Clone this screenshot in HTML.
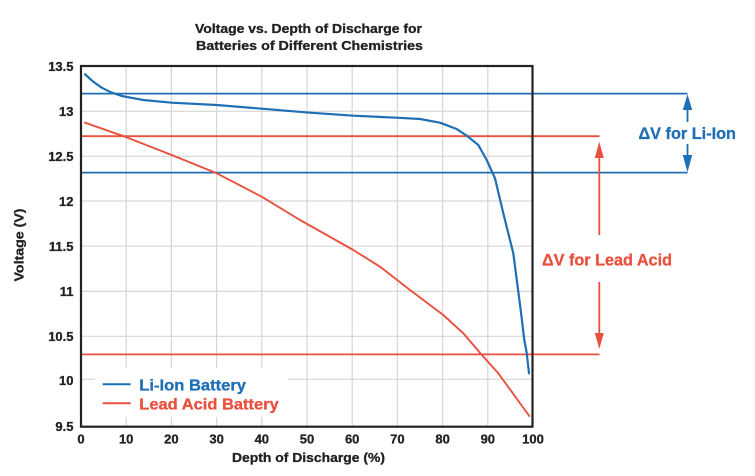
<!DOCTYPE html>
<html>
<head>
<meta charset="utf-8">
<style>
  html, body { margin: 0; padding: 0; background: #ffffff; }
  body { width: 755px; height: 476px; overflow: hidden; }
  svg { display: block; }
  text { font-family: "Liberation Sans", "DejaVu Sans", sans-serif; font-weight: bold; }
</style>
</head>
<body>
<svg width="755" height="476" viewBox="0 0 755 476" xmlns="http://www.w3.org/2000/svg">
  <rect x="0" y="0" width="755" height="476" fill="#ffffff"/>

  <!-- Title -->
  <g fill="#222222" stroke="#222222" stroke-width="0.3">
    <text x="308.5" y="33" font-size="13" text-anchor="middle" textLength="227" lengthAdjust="spacingAndGlyphs">Voltage vs. Depth of Discharge for</text>
    <text x="309.5" y="50" font-size="13" text-anchor="middle" textLength="227" lengthAdjust="spacingAndGlyphs">Batteries of Different Chemistries</text>
  </g>

  <!-- Grid -->
  <g stroke="#d6d6d6" stroke-width="1.2" fill="none">
    <line x1="126.2" y1="66" x2="126.2" y2="427"/>
    <line x1="171.4" y1="66" x2="171.4" y2="427"/>
    <line x1="216.6" y1="66" x2="216.6" y2="427"/>
    <line x1="261.8" y1="66" x2="261.8" y2="427"/>
    <line x1="307" y1="66" x2="307" y2="427"/>
    <line x1="352.2" y1="66" x2="352.2" y2="427"/>
    <line x1="397.4" y1="66" x2="397.4" y2="427"/>
    <line x1="442.6" y1="66" x2="442.6" y2="427"/>
    <line x1="487.8" y1="66" x2="487.8" y2="427"/>
    <line x1="81" y1="111.3" x2="533" y2="111.3"/>
    <line x1="81" y1="156.3" x2="533" y2="156.3"/>
    <line x1="81" y1="201" x2="533" y2="201"/>
    <line x1="81" y1="246.2" x2="533" y2="246.2"/>
    <line x1="81" y1="291.4" x2="533" y2="291.4"/>
    <line x1="81" y1="336.3" x2="533" y2="336.3"/>
    <line x1="81" y1="379.3" x2="533" y2="379.3"/>
  </g>

  <!-- Legend background -->
  <rect x="95" y="368" width="193" height="49" fill="#ffffff"/>

  <!-- Reference lines -->
  <g stroke-width="1.8" fill="none">
    <line x1="81" y1="93.6" x2="687.5" y2="93.6" stroke="#1e6fb5"/>
    <line x1="81" y1="172.6" x2="687.5" y2="172.6" stroke="#1e6fb5"/>
    <line x1="81" y1="136.2" x2="599.5" y2="136.2" stroke="#e9503e"/>
    <line x1="81" y1="354.4" x2="599.5" y2="354.4" stroke="#e9503e"/>
  </g>

  <!-- Curves -->
  <polyline fill="none" stroke="#e9503e" stroke-width="1.9" stroke-linejoin="round" stroke-linecap="round"
    points="85,122.7 125,136.7 171.7,155 216.7,173.3 261.7,196.7 300,220 353.3,250 380,266.7 410,290 443.3,315 463.3,333.3 481,354 498.3,373.3 529.3,416"/>
  <polyline fill="none" stroke="#1e6fb5" stroke-width="2.2" stroke-linejoin="round" stroke-linecap="round"
    points="85,74.3 93,81.5 101.7,87.7 111,92.3 121.7,96 143.3,100 171.7,102.7 216.7,105 261.7,108.7 310,112.7 353.3,115.7 396.7,117.7 420,119 440,122.7 456.7,129 466.7,135.7 478.3,145 486.7,160 495,178.3 503.3,213.3 513.3,253.3 520.7,310 524.3,340 526.7,353 529,373.3"/>

  <!-- Axes box -->
  <rect x="81" y="66" width="451.5" height="360.7" fill="none" stroke="#222222" stroke-width="2.2"/>

  <!-- Y tick labels -->
  <g font-size="13" fill="#222222" stroke="#222222" stroke-width="0.3" text-anchor="end">
    <text x="73.5" y="71">13.5</text>
    <text x="73.5" y="116">13</text>
    <text x="73.5" y="161">12.5</text>
    <text x="73.5" y="206">12</text>
    <text x="73.5" y="251">11.5</text>
    <text x="73.5" y="296">11</text>
    <text x="73.5" y="341">10.5</text>
    <text x="73.5" y="385">10</text>
    <text x="73.5" y="431">9.5</text>
  </g>

  <!-- X tick labels -->
  <g font-size="13" fill="#222222" stroke="#222222" stroke-width="0.3" text-anchor="middle">
    <text x="81" y="443.5">0</text>
    <text x="126.2" y="443.5">10</text>
    <text x="171.4" y="443.5">20</text>
    <text x="216.6" y="443.5">30</text>
    <text x="261.8" y="443.5">40</text>
    <text x="307" y="443.5">50</text>
    <text x="352.2" y="443.5">60</text>
    <text x="397.4" y="443.5">70</text>
    <text x="442.6" y="443.5">80</text>
    <text x="487.8" y="443.5">90</text>
    <text x="533" y="443.5">100</text>
  </g>

  <!-- Axis titles -->
  <g fill="#222222" stroke="#222222" stroke-width="0.3">
    <text x="308.5" y="462" font-size="13" text-anchor="middle" textLength="153" lengthAdjust="spacingAndGlyphs">Depth of Discharge (%)</text>
    <text transform="translate(23.5,245) rotate(-90)" x="0" y="0" font-size="13" text-anchor="middle" textLength="73" lengthAdjust="spacingAndGlyphs">Voltage (V)</text>
  </g>

  <!-- Legend -->
  <line x1="102.7" y1="384.3" x2="130.7" y2="384.3" stroke="#1e6fb5" stroke-width="2"/>
  <line x1="102.7" y1="403.3" x2="130.7" y2="403.3" stroke="#e9503e" stroke-width="2"/>
  <text x="139.3" y="390.7" font-size="16" fill="#1e6fb5" stroke="#1e6fb5" stroke-width="0.3" textLength="106.7" lengthAdjust="spacingAndGlyphs">Li-Ion Battery</text>
  <text x="139.3" y="409.5" font-size="16" fill="#e9503e" stroke="#e9503e" stroke-width="0.3" textLength="139.4" lengthAdjust="spacingAndGlyphs">Lead Acid Battery</text>

  <!-- Li-Ion delta annotation -->
  <g fill="#1e6fb5" stroke="none">
    <polygon points="687.5,94.3 682.8,110 692.2,110"/>
    <rect x="686.6" y="109" width="1.8" height="13"/>
    <rect x="686.6" y="144" width="1.8" height="12"/>
    <polygon points="687.5,172.3 682.8,155 692.2,155"/>
  </g>
  <text x="638.5" y="139" font-size="16.5" fill="#1e6fb5" stroke="#1e6fb5" stroke-width="0.3" textLength="97.5" lengthAdjust="spacingAndGlyphs">ΔV for Li-Ion</text>

  <!-- Lead Acid delta annotation -->
  <g fill="#e9503e" stroke="none">
    <polygon points="599.3,141.7 594.8,158 603.8,158"/>
    <rect x="598.4" y="157" width="1.8" height="78"/>
    <rect x="598.4" y="282" width="1.8" height="52"/>
    <polygon points="599.3,349 594.8,333 603.8,333"/>
  </g>
  <text x="542" y="265.7" font-size="16.5" fill="#e9503e" stroke="#e9503e" stroke-width="0.3" textLength="130" lengthAdjust="spacingAndGlyphs">ΔV for Lead Acid</text>
</svg>
</body>
</html>
